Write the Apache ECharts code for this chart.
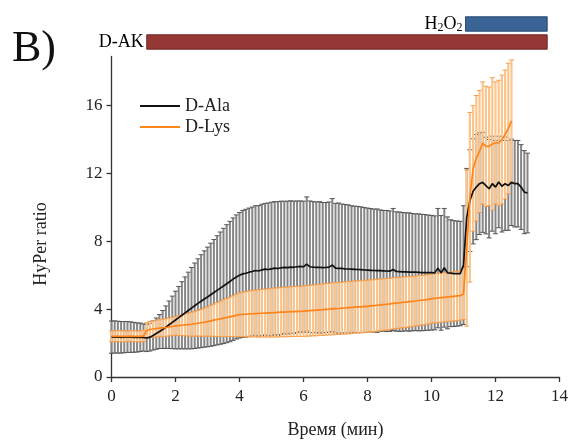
<!DOCTYPE html>
<html>
<head>
<meta charset="utf-8">
<script src="https://cdn.jsdelivr.net/npm/echarts@6/dist/echarts.min.js"></script>
<style>
  html, body { margin: 0; padding: 0; background: #fff; }
  #chart { width: 571px; height: 444px; }
</style>
</head>
<body>
<div id="chart"></div>
<script>
// HyPer ratio time courses, sampled every 0.1 min (mean and SD)
const sampleStep = 0.1;

const alaMean = [
  2.35, 2.36, 2.35, 2.34, 2.35, 2.36, 2.35, 2.34, 2.33, 2.34,
  2.33, 2.30, 2.35, 2.45, 2.56, 2.68, 2.80, 2.94, 3.08, 3.22,
  3.36, 3.50, 3.64, 3.78, 3.92, 4.06, 4.20, 4.34, 4.47, 4.60,
  4.72, 4.85, 4.98, 5.11, 5.24, 5.37, 5.50, 5.63, 5.77, 5.90,
  6.00, 6.08, 6.12, 6.18, 6.22, 6.28, 6.25, 6.32, 6.36, 6.34,
  6.38, 6.42, 6.40, 6.44, 6.46, 6.45, 6.48, 6.47, 6.50, 6.52,
  6.50, 6.66, 6.50, 6.48, 6.47, 6.46, 6.45, 6.46, 6.48, 6.60,
  6.42, 6.41, 6.40, 6.38, 6.37, 6.36, 6.35, 6.34, 6.33, 6.31,
  6.30, 6.29, 6.28, 6.27, 6.27, 6.26, 6.25, 6.24, 6.34, 6.22,
  6.21, 6.20, 6.20, 6.19, 6.18, 6.18, 6.17, 6.16, 6.16, 6.15,
  6.15, 6.14, 6.42, 6.14, 6.44, 6.14, 6.12, 6.10, 6.10, 6.10,
  6.60, 9.40, 10.40, 10.95, 11.20, 11.40, 11.48, 11.29, 11.10, 11.40,
  11.20, 11.50, 11.25, 11.40, 11.30, 11.48, 11.40, 11.40, 11.20, 10.90,
  10.85
];
const alaSd = [
  0.95, 0.95, 0.94, 0.93, 0.92, 0.91, 0.90, 0.88, 0.86, 0.84,
  0.80, 0.80, 0.82, 0.86, 0.92, 1.00, 1.12, 1.25, 1.40, 1.55,
  1.70, 1.84, 1.98, 2.12, 2.26, 2.40, 2.52, 2.63, 2.74, 2.84,
  2.94, 3.04, 3.13, 3.22, 3.31, 3.40, 3.48, 3.55, 3.61, 3.66,
  3.70, 3.74, 3.77, 3.78, 3.80, 3.82, 3.86, 3.87, 3.88, 3.92,
  3.93, 3.92, 3.94, 3.93, 3.90, 3.92, 3.91, 3.90, 3.88, 3.86,
  3.87, 3.96, 3.88, 3.86, 3.85, 3.88, 3.84, 3.83, 3.84, 3.92,
  3.82, 3.85, 3.80, 3.79, 3.78, 3.74, 3.72, 3.72, 3.70, 3.68,
  3.66, 3.64, 3.62, 3.64, 3.58, 3.56, 3.57, 3.55, 3.60, 3.52,
  3.52, 3.50, 3.48, 3.49, 3.46, 3.44, 3.45, 3.43, 3.42, 3.40,
  3.38, 3.36, 3.52, 3.38, 3.50, 3.30, 3.15, 3.12, 3.10, 3.08,
  3.50, 2.90, 3.00, 3.10, 3.10, 3.00, 2.95, 2.85, 2.90, 2.80,
  2.75, 2.70, 2.70, 2.75, 2.65, 2.55, 2.55, 2.55, 2.50, 2.45,
  2.35
];

const lysMean = [
  2.40, 2.40, 2.41, 2.40, 2.39, 2.40, 2.41, 2.40, 2.39, 2.40,
  2.42, 2.74, 2.80, 2.83, 2.86, 2.88, 2.90, 2.92, 2.95, 2.98,
  3.01, 3.03, 3.05, 3.07, 3.09, 3.11, 3.14, 3.17, 3.20, 3.23,
  3.27, 3.31, 3.35, 3.39, 3.43, 3.47, 3.51, 3.55, 3.59, 3.63,
  3.67, 3.69, 3.70, 3.72, 3.73, 3.74, 3.75, 3.76, 3.77, 3.78,
  3.79, 3.80, 3.81, 3.82, 3.83, 3.84, 3.85, 3.86, 3.87, 3.87,
  3.88, 3.90, 3.91, 3.93, 3.94, 3.96, 3.97, 3.99, 4.00, 4.02,
  4.03, 4.04, 4.06, 4.07, 4.09, 4.10, 4.12, 4.13, 4.14, 4.16,
  4.17, 4.19, 4.21, 4.23, 4.25, 4.27, 4.29, 4.31, 4.34, 4.36,
  4.38, 4.40, 4.42, 4.44, 4.46, 4.48, 4.51, 4.53, 4.55, 4.58,
  4.62, 4.64, 4.66, 4.68, 4.70, 4.72, 4.74, 4.76, 4.78, 4.80,
  4.90, 7.60, 10.60, 12.30, 12.90, 13.30, 13.80, 13.60, 13.60, 13.75,
  13.80, 13.80, 14.00, 14.30, 14.65, 15.10
];
const lysSd = [
  0.32, 0.32, 0.31, 0.32, 0.32, 0.31, 0.32, 0.32, 0.31, 0.32,
  0.33, 0.46, 0.47, 0.48, 0.49, 0.50, 0.51, 0.52, 0.53, 0.54,
  0.55, 0.58, 0.61, 0.64, 0.67, 0.70, 0.73, 0.76, 0.79, 0.83,
  0.86, 0.91, 0.95, 1.00, 1.04, 1.08, 1.12, 1.16, 1.20, 1.25,
  1.29, 1.31, 1.33, 1.35, 1.37, 1.38, 1.39, 1.40, 1.41, 1.42,
  1.44, 1.44, 1.45, 1.45, 1.46, 1.46, 1.47, 1.47, 1.48, 1.48,
  1.49, 1.49, 1.50, 1.50, 1.51, 1.51, 1.52, 1.52, 1.52, 1.53,
  1.53, 1.53, 1.53, 1.54, 1.54, 1.54, 1.54, 1.54, 1.54, 1.54,
  1.54, 1.54, 1.53, 1.53, 1.53, 1.52, 1.52, 1.51, 1.51, 1.50,
  1.50, 1.49, 1.49, 1.48, 1.48, 1.47, 1.47, 1.46, 1.46, 1.45,
  1.45, 1.45, 1.45, 1.45, 1.45, 1.45, 1.45, 1.45, 1.45, 1.45,
  1.50, 4.60, 5.00, 3.70, 3.70, 3.60, 3.60, 3.55, 3.50, 3.90,
  3.60, 3.70, 3.80, 3.80, 3.85, 3.60
];

// Treatment periods shown above the plot (minutes)
const treatments = ['D-AK', 'H2O2'];
const treatmentStart = [1.1, 11.05];
const treatmentEnd = [13.6, 13.6];

// Axis ticks
const xTicks = [0, 2, 4, 6, 8, 10, 12, 14];
const yTicks = [0, 4, 8, 12, 16];

const FONT = 'Liberation Serif, Times New Roman, serif';

function timeAt(i) { return Math.round(i * sampleStep * 10) / 10; }
function linePoints(mean) { return mean.map((m, i) => [timeAt(i), m]); }
function barPoints(mean, sd) { return mean.map((m, i) => [timeAt(i), m - sd[i], m + sd[i]]); }

function errorBarRenderer(barColor, barWidth, capColor, capHalf) {
  return function (params, api) {
    const t = api.value(0);
    const lo = api.coord([t, api.value(1)]);
    const hi = api.coord([t, api.value(2)]);
    return {
      type: 'group',
      children: [
        { type: 'line', shape: { x1: lo[0], y1: lo[1], x2: hi[0], y2: hi[1] },
          style: { stroke: barColor, lineWidth: barWidth } },
        { type: 'line', shape: { x1: hi[0] - capHalf, y1: hi[1], x2: hi[0] + capHalf, y2: hi[1] },
          style: { stroke: capColor, lineWidth: 1 } },
        { type: 'line', shape: { x1: lo[0] - capHalf, y1: lo[1], x2: lo[0] + capHalf, y2: lo[1] },
          style: { stroke: capColor, lineWidth: 1 } }
      ]
    };
  };
}

const treatmentColors = [
  { fill: '#953735', stroke: '#6e2624' },
  { fill: '#3a6496', stroke: '#2b4b72' }
];

function treatmentRenderer(params, api) {
  const idx = api.value(0);
  const p0 = api.coord([api.value(1), idx]);
  const p1 = api.coord([api.value(2), idx]);
  const h = api.size([0, 1])[1] * 0.8;
  const c = treatmentColors[idx];
  const name = treatments[idx];
  const labelText = name === 'H2O2' ? '{n|H}{s|2}{n|O}{s|2}' : '{n|' + name + '}';
  return {
    type: 'group',
    children: [
      { type: 'rect', shape: { x: p0[0], y: p0[1] - h / 2, width: p1[0] - p0[0], height: h },
        style: { fill: c.fill, stroke: c.stroke, lineWidth: 1 } },
      { type: 'text', x: p0[0] - 3, y: p0[1],
        style: {
          text: labelText, align: 'right', verticalAlign: 'middle',
          rich: {
            n: { fontFamily: FONT, fontSize: 18, color: '#111', lineHeight: 20 },
            s: { fontFamily: FONT, fontSize: 12, color: '#111', lineHeight: 20, verticalAlign: 'bottom', padding: [8, 0, 0, 0] }
          }
        } }
    ]
  };
}

const chart = echarts.init(document.getElementById('chart'), null, { renderer: 'canvas' });

chart.setOption({
  animation: false,
  backgroundColor: '#ffffff',
  grid: [
    { left: 111.5, right: 11, top: 56.5, bottom: 60 },
    { left: 111.5, right: 11, top: 15, height: 36 }
  ],
  xAxis: [
    {
      type: 'value', gridIndex: 0, min: 0, max: 14, interval: 2,
      name: 'Время (мин)', nameLocation: 'middle', nameGap: 44,
      nameTextStyle: { fontFamily: FONT, fontSize: 18, color: '#222' },
      axisLine: { lineStyle: { color: '#333', width: 1.3 } },
      axisTick: { length: 5, lineStyle: { color: '#333', width: 1.3 }, customValues: xTicks },
      axisLabel: { fontFamily: FONT, fontSize: 17, color: '#222', margin: 11, customValues: xTicks },
      splitLine: { show: false }
    },
    { type: 'value', gridIndex: 1, min: 0, max: 14, show: false }
  ],
  yAxis: [
    {
      type: 'value', gridIndex: 0, min: 0, max: 18.9, interval: 4,
      axisLine: { show: true, lineStyle: { color: '#333', width: 1.3 } },
      axisTick: { show: true, length: 5, lineStyle: { color: '#333', width: 1.3 }, customValues: yTicks },
      axisLabel: { fontFamily: FONT, fontSize: 17, color: '#222', margin: 9, customValues: yTicks },
      splitLine: { show: false }
    },
    { type: 'category', gridIndex: 1, data: treatments, show: false }
  ],
  legend: {
    orient: 'vertical', left: 135, top: 92, itemWidth: 40, itemHeight: 2, itemGap: 3,
    icon: 'rect',
    textStyle: { fontFamily: FONT, fontSize: 18, color: '#222' },
    data: ['D-Ala', 'D-Lys']
  },
  graphic: [
    { type: 'text', left: 12, top: 27,
      style: { text: 'B)', fontFamily: FONT, fontSize: 44, fill: '#111' } },
    { type: 'text', x: 41, y: 244, rotation: Math.PI / 2,
      style: { text: 'HyPer ratio', fontFamily: FONT, fontSize: 18, fill: '#222', align: 'center', verticalAlign: 'middle' } }
  ],
  series: [
    {
      name: 'D-Ala SD', type: 'custom', xAxisIndex: 0, yAxisIndex: 0, z: 1,
      renderItem: errorBarRenderer('#858585', 2.0, '#555', 2.5),
      encode: { x: 0, y: [1, 2] },
      data: barPoints(alaMean, alaSd), silent: true
    },
    {
      name: 'D-Lys SD', type: 'custom', xAxisIndex: 0, yAxisIndex: 0, z: 2,
      renderItem: errorBarRenderer('#fcc58c', 2.2, '#f7a050', 2.5),
      encode: { x: 0, y: [1, 2] },
      data: barPoints(lysMean, lysSd), silent: true
    },
    {
      name: 'D-Ala', type: 'line', xAxisIndex: 0, yAxisIndex: 0, z: 3,
      symbol: 'none', showSymbol: false,
      lineStyle: { color: '#111', width: 1.7 }, itemStyle: { color: '#111' },
      data: linePoints(alaMean)
    },
    {
      name: 'D-Lys', type: 'line', xAxisIndex: 0, yAxisIndex: 0, z: 4,
      symbol: 'none', showSymbol: false,
      lineStyle: { color: '#ff8419', width: 1.7 }, itemStyle: { color: '#ff8419' },
      data: linePoints(lysMean)
    },
    {
      name: 'Treatments', type: 'custom', xAxisIndex: 1, yAxisIndex: 1,
      renderItem: treatmentRenderer,
      encode: { x: [1, 2], y: 0 },
      data: treatments.map((t, i) => [i, treatmentStart[i], treatmentEnd[i]]),
      silent: true, clip: false
    }
  ]
});
</script>
</body>
</html>
